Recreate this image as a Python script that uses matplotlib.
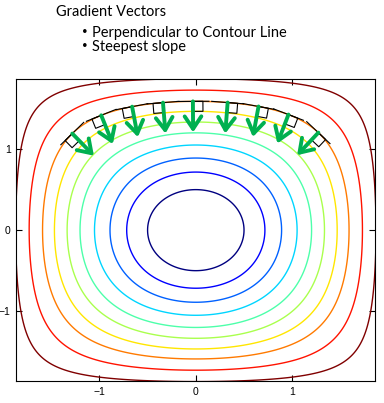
import numpy as np
import matplotlib
matplotlib.use("Agg")
import matplotlib.pyplot as plt

# contour levels of the bowl (value of cos*cos on the x axis crossings), inner -> outer
bowl_levels = [0.924, 0.846, 0.766, 0.679, 0.588, 0.500, 0.408, 0.318, 0.213, 0.104]
half_width = 2.0          # surface goes to zero at +-2
axis_limit = 1.86

# points on the orange contour where the gradient vectors start
arrow_level = 0.318
arrow_x = [-1.28, -0.98, -0.66, -0.34, -0.03, 0.33, 0.65, 0.96, 1.27]
square_side = [-1, -1, -1, -1, 1, 1, 1, 1, 1]   # which side the right-angle mark sits

title_text = "Gradient Vectors"
bullet_lines = ["Perpendicular to Contour Line", "Steepest slope"]
tick_values = [-1, 0, 1]

W, H = 384, 403


def surface(x, y):
    k = np.pi / (2 * half_width)
    return np.cos(k * x) * np.cos(k * y)


def surface_grad(x, y):
    k = np.pi / (2 * half_width)
    gx = -k * np.sin(k * x) * np.cos(k * y)
    gy = -k * np.cos(k * x) * np.sin(k * y)
    return gx, gy


def y_on_level(x, level):
    k = np.pi / (2 * half_width)
    return np.arccos(level / np.cos(k * x)) / k


fig = plt.figure(figsize=(W / 100, H / 100), dpi=100)
ax = fig.add_axes([16.3 / W, 22 / H, 359 / W, 301.7 / H])

g = np.linspace(-axis_limit - 0.1, axis_limit + 0.1, 400)
X, Y = np.meshgrid(g, g)
Z = -surface(X, Y)
levels = sorted(-np.array(bowl_levels))
# matlab style: evenly spread jet colours, one per level
line_colors = plt.get_cmap("jet")(np.linspace(0, 1, len(levels)))
ax.contour(X, Y, Z, levels=levels, colors=line_colors, linewidths=1.0)

ax.set_xlim(-axis_limit, axis_limit)
ax.set_ylim(-axis_limit, axis_limit)
ax.set_xticks(tick_values)
ax.set_yticks(tick_values)
ax.tick_params(direction="in", top=True, right=True, length=4, width=0.8,
               labelsize=7.5, pad=4)
for lab in ax.get_xticklabels() + ax.get_yticklabels():
    lab.set_fontfamily("Liberation Sans")
for sp in ax.spines.values():
    sp.set_linewidth(0.8)

# gradient vectors, tangent lines and right-angle marks, built in pixel space
to_px = ax.transData
to_data = ax.transData.inverted()
green = "#00B050"
sx = (to_px.transform((1, 0)) - to_px.transform((0, 0)))[0]
sy = (to_px.transform((0, 1)) - to_px.transform((0, 0)))[1]
for x0, side in zip(arrow_x, square_side):
    y0 = y_on_level(x0, arrow_level)
    gx, gy = surface_grad(x0, y0)
    p0 = to_px.transform((x0, y0))
    n = np.array([gx * sy, gy * sx])
    n = n / np.linalg.norm(n)          # inward normal, pixels
    t = np.array([n[1], -n[0]])        # tangent, pointing to +x side
    if t[0] < 0:
        t = -t
    # tangent line
    a = to_data.transform(p0 - t * 16)
    b = to_data.transform(p0 + t * 16)
    ax.plot([a[0], b[0]], [a[1], b[1]], color="black", lw=0.8, zorder=3)
    # right-angle square
    s = 10
    c = [p0, p0 + side * t * s, p0 + side * t * s + n * s, p0 + n * s]
    c = to_data.transform(np.array(c))
    ax.plot(c[:, 0], c[:, 1], color="black", lw=0.8, zorder=3)
    # arrow
    end = to_data.transform(p0 + n * 31)
    ax.annotate("", xy=end, xytext=(x0, y0),
                arrowprops=dict(arrowstyle="->,head_length=0.45,head_width=0.3",
                                color=green, lw=2.8, mutation_scale=20,
                                shrinkA=0, shrinkB=0),
                zorder=4)

font = "Lato"
fig.text(56.5 / W, 1 - 16 / H, title_text, fontsize=10.5, family=font, va="baseline")
for i, line in enumerate(bullet_lines):
    base = 36.7 + i * 14.5
    fig.text(82 / W, 1 - (base - 3) / H, "\u2022", fontsize=7, family=font, va="baseline")
    fig.text(92 / W, 1 - base / H, line, fontsize=10.5, family=font, va="baseline")

fig.savefig("out.png", dpi=100)
